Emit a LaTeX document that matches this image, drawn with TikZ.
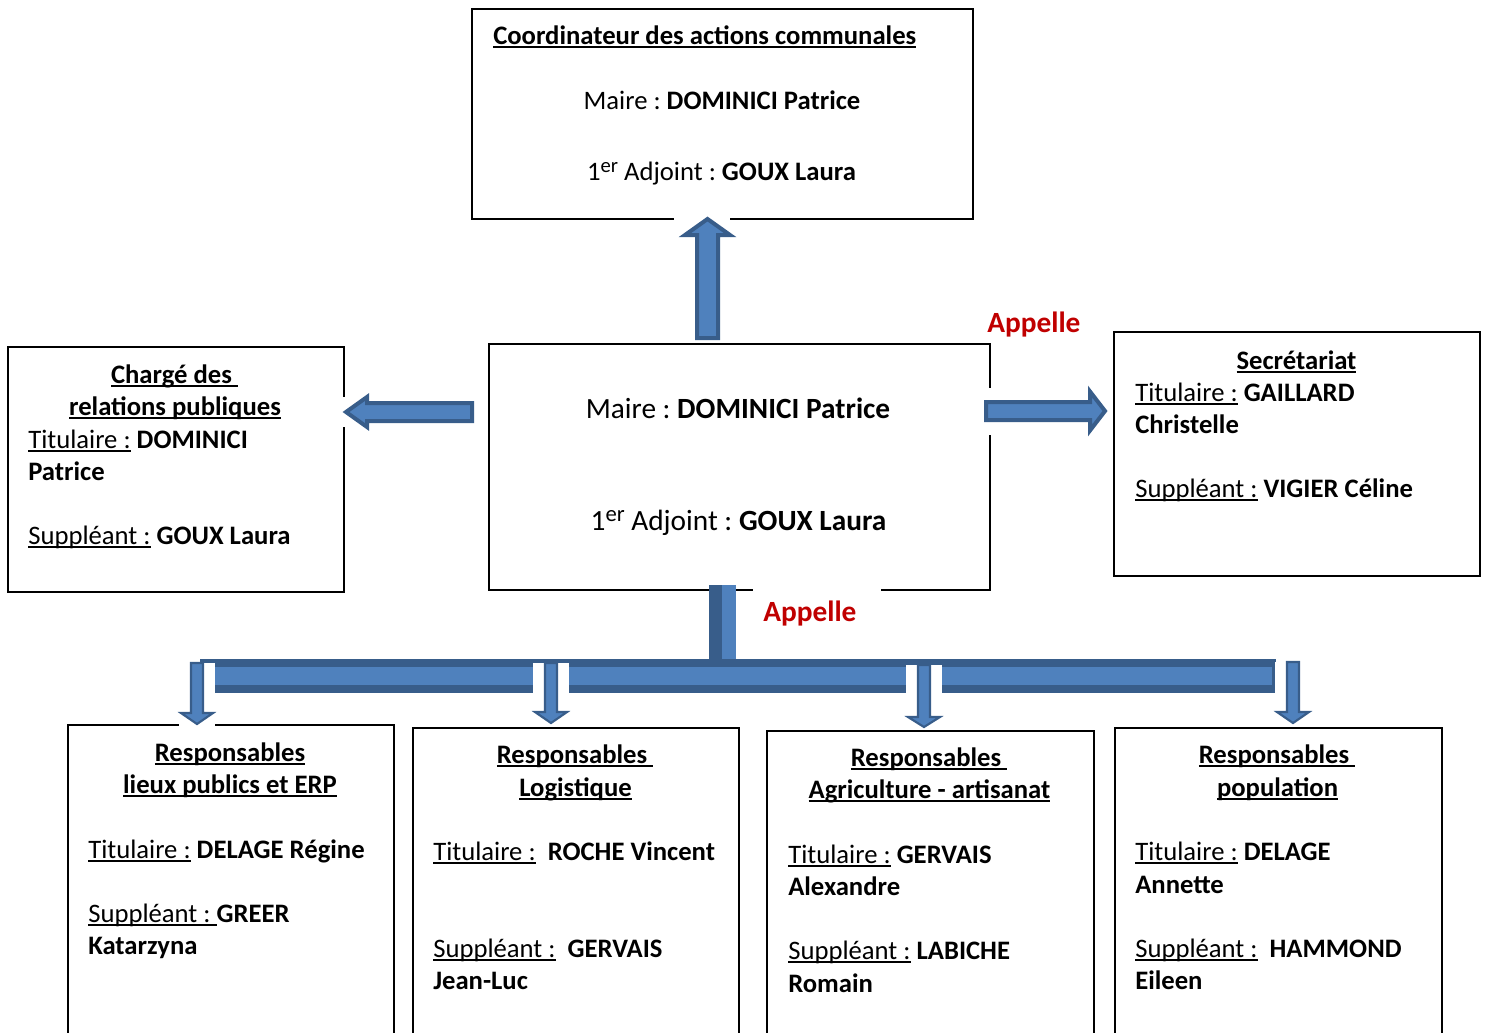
\documentclass[tikz,border=0pt]{standalone}
\usepackage{fontspec}
\setmainfont{Carlito}
\frenchspacing
\definecolor{bluefill}{RGB}{79,129,189}
\definecolor{blueedge}{RGB}{56,93,138}
\definecolor{appred}{RGB}{192,0,0}
\newcommand{\ulx}[1]{\setbox0=\hbox{#1}\rlap{\rule[-0.16em]{\wd0}{0.07em}}\box0\relax}
\newcommand{\expA}[1]{\raisebox{0.3em}{\fontsize{15.5}{16}\selectfont #1}}
\newcommand{\expB}[1]{\raisebox{0.3em}{\fontsize{17}{18}\selectfont #1}}
\newcommand{\dnarrow}[5]{% name, center x, top y, head base y, tip y
  \fill[white] (#2-18,#3) rectangle (#2+18,#5+3);
  \draw[arrowthin] (#2-6,#3) -- (#2+6,#3) -- (#2+6,#4) -- (#2+16,#4) -- (#2,#5) -- (#2-16,#4) -- (#2-6,#4) -- cycle;
  \coordinate (#1) at (#2,#5);}
\begin{document}
\begin{tikzpicture}[x=0.75pt,y=-0.75pt,
  boxst/.style={draw=black,line width=1.9pt},
  arrowthick/.style={fill=bluefill,draw=blueedge,line width=3pt,line join=miter},
  arrowthin/.style={fill=bluefill,draw=blueedge,line width=1.6pt,line join=miter},
  txt/.style={inner sep=0pt,font=\fontsize{20}{24}\selectfont},
  bigtxt/.style={inner sep=0pt,font=\fontsize{22}{26}\selectfont},
  appelle/.style={inner sep=0pt,text=appred,font=\fontsize{22}{26}\selectfont\bfseries}]
\useasboundingbox (0,0) rectangle (1488,1032);
\clip (0,0) rectangle (1488,1032);

% boxes
\draw[boxst] (472,9) rectangle (973,219);
\draw[boxst] (489,344) rectangle (990,590);
\draw[boxst] (8,347) rectangle (344,592);
\draw[boxst] (1114,332) rectangle (1480,576);
\draw[boxst] (68,1045) |- (394,725) -- (394,1045);
\draw[boxst] (413,1045) |- (739,728) -- (739,1045);
\draw[boxst] (767,1045) |- (1094,731) -- (1094,1045);
\draw[boxst] (1115,1045) |- (1442,728) -- (1442,1045);

\coordinate (topS) at (707.5,219);
\coordinate (cenN) at (707.5,338);
\coordinate (cenW) at (472,412);
\coordinate (lefE) at (346,412);
\coordinate (cenE) at (986,411);
\coordinate (rigW) at (1105,411);

% white masks where arrows cross box borders
\fill[white] (674,212) rectangle (730,226);
\fill[white] (337,397) rectangle (351,427);
\fill[white] (983,388) rectangle (997,435);
\fill[white] (753,584) rectangle (881,596);

% up arrow (centre box -> coordinator)
\draw[arrowthick] (697,338) -- (697,235) -- (685,235) -- (topS) -- (730,235) -- (718,235) -- (718,338) -- cycle;
% left arrow
\draw[arrowthick] (cenW) ++(0,-9) -- (367,403) -- (367,397) -- (lefE) -- (367,427) -- (367,421) -- (472,421) -- cycle;
% right arrow
\draw[arrowthick] (cenE) ++(0,-9) -- (1090,402) -- (1090,391.5) -- (rigW) -- (1090,430.5) -- (1090,420) -- (986,420) -- cycle;

% stem and bar
\fill[blueedge] (709,585) rectangle (722,661);
\fill[bluefill] (722,585) rectangle (736,661);
\fill[blueedge] (200,659) rectangle (1276,693);
\fill[bluefill] (210,667) rectangle (1272,685);

% down arrows
\dnarrow{d1}{197}{663}{713}{724}
\dnarrow{d2}{551}{663}{712}{723}
\dnarrow{d3}{924}{665}{717}{727}
\dnarrow{d4}{1293}{662}{712}{723}

% top box text
\node[txt,anchor=base west] (t1) at (493,44) {\bfseries\ulx{Coordinateur des actions communales}};
\node[txt,anchor=base] (t2) at (722,109) {Maire : \textbf{DOMINICI Patrice}};
\node[txt,anchor=base] (t3) at (721.5,180) {1\expA{er} Adjoint : \textbf{GOUX Laura}};

% center box text
\node[bigtxt,anchor=base] (c1) at (738,418) {Maire : \textbf{DOMINICI Patrice}};
\node[bigtxt,anchor=base] (c2) at (738.5,530) {1\expB{er} Adjoint : \textbf{GOUX Laura}};

% left box text
\node[txt,anchor=base] (l1) at (174.5,383) {\bfseries\ulx{Chargé des\ }};
\node[txt,anchor=base] (l2) at (175,415) {\bfseries\ulx{relations publiques}};
\node[txt,anchor=base west] (l3) at (28,448) {\ulx{Titulaire :} \textbf{DOMINICI}};
\node[txt,anchor=base west] (l4) at (28,480) {\textbf{Patrice}};
\node[txt,anchor=base west] (l5) at (28,544) {\ulx{Suppléant :} \textbf{GOUX Laura}};

% right box text
\node[txt,anchor=base] (r1) at (1296.5,369) {\bfseries\ulx{Secrétariat}};
\node[txt,anchor=base west] (r2) at (1135,401) {\ulx{Titulaire :} \textbf{GAILLARD}};
\node[txt,anchor=base west] (r3) at (1135,433) {\textbf{Christelle}};
\node[txt,anchor=base west] (r4) at (1135,497) {\ulx{Suppléant :} \textbf{VIGIER Céline}};

% bottom box 1
\node[txt,anchor=base] (a1) at (230,761) {\bfseries\ulx{Responsables}};
\node[txt,anchor=base] (a2) at (230,793) {\bfseries\ulx{lieux publics et ERP}};
\node[txt,anchor=base west] (a3) at (88,858) {\ulx{Titulaire :} \textbf{DELAGE Régine}};
\node[txt,anchor=base west] (a4) at (88,922) {\ulx{Suppléant :\ }\textbf{GREER}};
\node[txt,anchor=base west] (a5) at (88,954) {\textbf{Katarzyna}};

% bottom box 2
\node[txt,anchor=base] (b1) at (575,763) {\bfseries\ulx{Responsables\ }};
\node[txt,anchor=base] (b2) at (575.5,796) {\bfseries\ulx{Logistique}};
\node[txt,anchor=base west] (b3) at (433,860) {\ulx{Titulaire :}\ \ \textbf{ROCHE Vincent}};
\node[txt,anchor=base west] (b4) at (433,957) {\ulx{Suppléant :}\ \ \textbf{GERVAIS}};
\node[txt,anchor=base west] (b5) at (433,989) {\textbf{Jean-Luc}};

% bottom box 3
\node[txt,anchor=base] (g1) at (929,766) {\bfseries\ulx{Responsables\ }};
\node[txt,anchor=base] (g2) at (929.5,798) {\bfseries\ulx{Agriculture - artisanat}};
\node[txt,anchor=base west] (g3) at (788,863) {\ulx{Titulaire :} \textbf{GERVAIS}};
\node[txt,anchor=base west] (g4) at (788,895) {\textbf{Alexandre}};
\node[txt,anchor=base west] (g5) at (788,959) {\ulx{Suppléant :} \textbf{LABICHE}};
\node[txt,anchor=base west] (g6) at (788,992) {\textbf{Romain}};

% bottom box 4
\node[txt,anchor=base] (p1) at (1277,763) {\bfseries\ulx{Responsables\ }};
\node[txt,anchor=base] (p2) at (1277.5,796) {\bfseries\ulx{population}};
\node[txt,anchor=base west] (p3) at (1135,860) {\ulx{Titulaire :} \textbf{DELAGE}};
\node[txt,anchor=base west] (p4) at (1135,893) {\textbf{Annette}};
\node[txt,anchor=base west] (p5) at (1135,957) {\ulx{Suppléant :}\ \ \textbf{HAMMOND}};
\node[txt,anchor=base west] (p6) at (1135,989) {\textbf{Eileen}};

% labels
\node[appelle,anchor=base west] (ap1) at (987,332) {Appelle};
\node[appelle,anchor=base west] (ap2) at (763,621) {Appelle};
\end{tikzpicture}
\end{document}
